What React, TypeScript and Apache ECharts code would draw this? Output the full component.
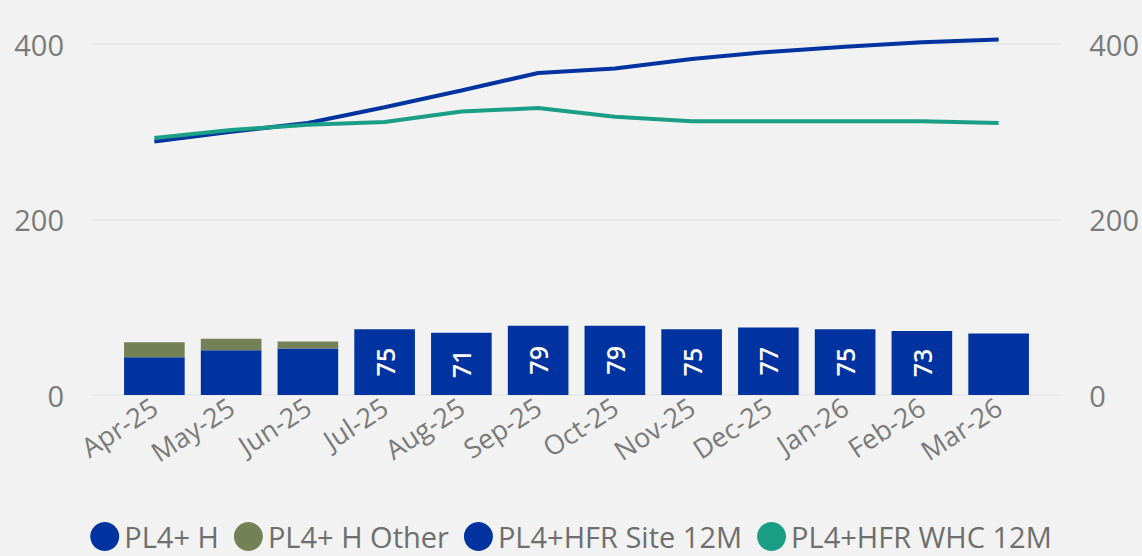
import React, { useEffect, useRef } from "react";
import * as echarts from "echarts";

const categories = ["Apr-25", "May-25", "Jun-25", "Jul-25", "Aug-25", "Sep-25", "Oct-25", "Nov-25", "Dec-25", "Jan-26", "Feb-26", "Mar-26"];
const plH = [43, 51, 53, 75, 71, 79, 79, 75, 77, 75, 73, 70];
const plHOther = [17, 13, 8, null, null, null, null, null, null, null, null, null];
const site12M = [289, 300, 310, 328, 347, 367, 372, 383, 391, 397, 402, 405];
const whc12M = [293, 302, 308, 311, 323, 327, 317, 312, 312, 312, 312, 310];
const barLabelVisible = [false, false, false, true, true, true, true, true, true, true, true, false];
const yTicks = { min: 0, max: 400, interval: 200 };

const FONT = "'Segoe UI', 'Open Sans', sans-serif";
const BLUE = "#0033A0";
const OLIVE = "#748055";
const TEAL = "#1A9E85";

export default function App() {
  const ref = useRef<HTMLDivElement>(null);
  useEffect(() => {
    document.body.style.margin = "0";
    document.body.style.background = "#f2f2f2";
    const chart = echarts.init(ref.current!, undefined, { renderer: "svg" });
    const axisLabelStyle = { fontSize: 29, color: "#7a7a7a", fontFamily: FONT };
    chart.setOption({
      animation: false,
      backgroundColor: "#f2f2f2",
      textStyle: { fontFamily: FONT },
      grid: [
        { left: 92, right: 80, top: 44, bottom: 161 },
        { left: 116, right: 105, top: 44, bottom: 161 },
      ],
      xAxis: [
        { gridIndex: 0, type: "category", data: categories, show: false },
        {
          gridIndex: 1,
          type: "category",
          data: categories,
          axisLine: { show: false },
          axisTick: { show: false },
          axisLabel: { rotate: 33, fontSize: 27, color: "#7a7a7a", margin: 9, interval: 0, fontFamily: FONT },
        },
      ],
      yAxis: [
        {
          gridIndex: 0,
          type: "value",
          position: "left",
          ...yTicks,
          axisLine: { show: false },
          axisTick: { show: false },
          axisLabel: { ...axisLabelStyle, margin: 28 },
          splitLine: { lineStyle: { color: "#e6e6e6", width: 1.5 } },
        },
        {
          gridIndex: 0,
          type: "value",
          position: "right",
          ...yTicks,
          axisLine: { show: false },
          axisTick: { show: false },
          axisLabel: { ...axisLabelStyle, margin: 28 },
          splitLine: { show: false },
        },
        { gridIndex: 1, type: "value", ...yTicks, show: false },
      ],
      legend: {
        bottom: 5,
        left: "center",
        icon: "circle",
        itemWidth: 29,
        itemHeight: 29,
        itemGap: 15,
        padding: 0,
        textStyle: { fontSize: 29, color: "#6e6e6e", fontFamily: FONT },
        data: ["PL4+ H", "PL4+ H Other", "PL4+HFR Site 12M", "PL4+HFR WHC 12M"],
      },
      series: [
        {
          name: "PL4+ H",
          type: "bar",
          stack: "a",
          xAxisIndex: 1,
          yAxisIndex: 2,
          barCategoryGap: "21%",
          itemStyle: { color: BLUE },
          label: {
            position: "inside",
            rotate: 90,
            color: "#ffffff",
            fontSize: 25,
            fontWeight: 600,
            fontFamily: FONT,
          },
          data: plH.map((v, i) => ({ value: v, label: { show: barLabelVisible[i] } })),
        },
        {
          name: "PL4+ H Other",
          type: "bar",
          stack: "a",
          xAxisIndex: 1,
          yAxisIndex: 2,
          itemStyle: { color: OLIVE },
          data: plHOther,
        },
        {
          name: "PL4+HFR Site 12M",
          type: "line",
          xAxisIndex: 1,
          yAxisIndex: 2,
          symbol: "none",
          clip: false,
          itemStyle: { color: BLUE },
          lineStyle: { color: BLUE, width: 4 },
          data: site12M,
        },
        {
          name: "PL4+HFR WHC 12M",
          type: "line",
          xAxisIndex: 1,
          yAxisIndex: 2,
          symbol: "none",
          clip: false,
          itemStyle: { color: TEAL },
          lineStyle: { color: TEAL, width: 4 },
          data: whc12M,
        },
      ],
    });
    return () => chart.dispose();
  }, []);
  return <div ref={ref} style={{ width: 1142, height: 556, background: "#f2f2f2" }} />;
}
